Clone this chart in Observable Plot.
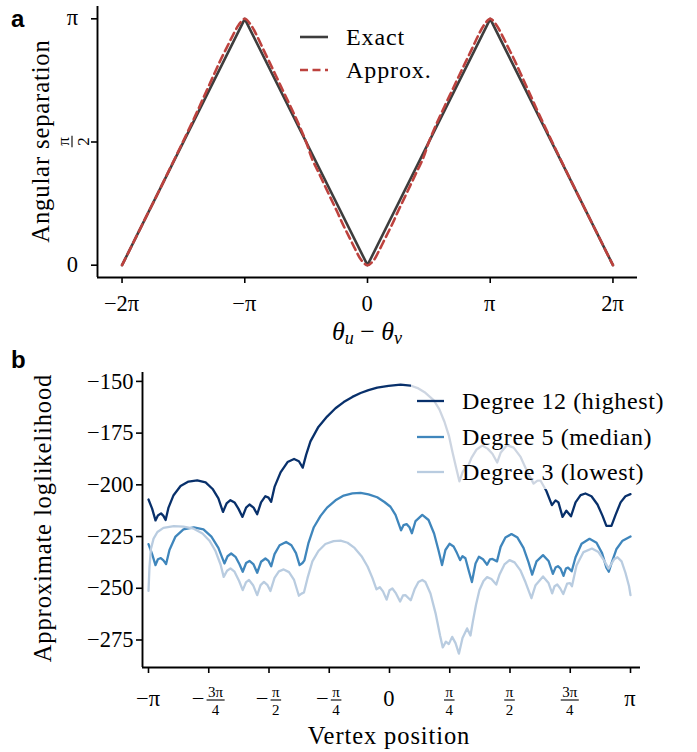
<!DOCTYPE html>
<html><head><meta charset="utf-8">
<script src="https://cdn.jsdelivr.net/npm/d3@7"></script>
<script src="https://cdn.jsdelivr.net/npm/@observablehq/plot@0.6"></script>
<style>
body{margin:0;background:#fff;}
#root{position:relative;width:697px;height:752px;}
#root > svg{display:block;}
#overlay{position:absolute;left:0;top:0;}
</style>
</head><body><div id="root"></div>
<script>
const PI = Math.PI;

// ---------- Panel a data (x and y in units of π) ----------
const diffExact = [-2, -1, 0, 1, 2];
const sepExact = [0, 1, 0, 1, 0];
const diffApprox = [-2,-1.9,-1.8,-1.7,-1.6,-1.5,-1.4,-1.35,-1.3,-1.25,-1.2,-1.15,-1.1,-1.05,-1,
  -0.95,-0.9,-0.85,-0.8,-0.75,-0.7,-0.65,-0.6,-0.55,-0.5,-0.45,-0.4,-0.35,-0.3,-0.25,-0.2,-0.15,-0.1,-0.05,0,
  0.05,0.1,0.15,0.2,0.25,0.3,0.35,0.4,0.45,0.5,0.55,0.6,0.65,0.7,0.75,0.8,0.85,0.9,0.95,1,
  1.05,1.1,1.15,1.2,1.25,1.3,1.35,1.4,1.5,1.6,1.7,1.8,1.9,2];
const sepApprox = [0,0.1,0.2,0.3,0.402,0.505,0.61,0.665,0.72,0.775,0.83,0.88,0.93,0.975,1,
  0.975,0.93,0.877,0.825,0.773,0.72,0.668,0.615,0.56,0.5,0.43,0.378,0.325,0.272,0.22,0.165,0.115,0.065,0.02,0,
  0.02,0.065,0.115,0.165,0.22,0.272,0.325,0.378,0.43,0.5,0.56,0.615,0.668,0.72,0.773,0.825,0.877,0.93,0.975,1,
  0.975,0.93,0.88,0.83,0.775,0.72,0.665,0.61,0.505,0.402,0.3,0.2,0.1,0];
const seriesA = ["Exact", "Approx."];
const xTicksA = [-2, -1, 0, 1, 2];
const xTickLabelsA = ["−2π", "−π", "0", "π", "2π"];
const yTicksA = [0, 0.5, 1];
const yTickLabelsA = ["0", "π/2", "π"];

// ---------- Panel b data (vertex position in units of π) ----------
const seriesB = ["Degree 12 (highest)", "Degree 5 (median)", "Degree 3 (lowest)"];
const posDeg12 = [-1,-0.985,-0.971,-0.961,-0.948,-0.938,-0.929,-0.917,-0.896,-0.867,-0.834,-0.798,-0.763,-0.734,-0.71,
  -0.691,-0.676,-0.66,-0.643,-0.627,-0.61,-0.595,-0.581,-0.564,-0.549,-0.533,-0.515,-0.502,-0.491,-0.477,-0.452,
  -0.423,-0.396,-0.376,-0.36,-0.346,-0.328,-0.295,-0.259,-0.224,-0.19,-0.154,-0.12,-0.087,-0.051,-0.004,0.046,
  0.087,0.12,0.149,0.183,0.207,0.228,0.247,0.261,0.276,0.29,0.303,0.317,0.328,0.34,0.361,0.385,0.407,0.427,0.447,
  0.461,0.488,0.515,0.544,0.571,0.598,0.614,0.627,0.651,0.674,0.689,0.701,0.718,0.734,0.753,0.772,0.793,0.813,
  0.838,0.863,0.884,0.9,0.921,0.938,0.959,0.979,1];
const llDeg12 = [-207.1,-211.5,-217.2,-214.8,-213.8,-215,-217,-211,-205,-200.6,-198.4,-197.8,-198.8,-202,-206.5,
  -213.1,-209,-207.4,-208.5,-211.5,-215.5,-211,-209.5,-211,-214.2,-208.5,-205.5,-206.2,-208.2,-201,-194,
  -189,-187.5,-188.6,-191.7,-185.5,-179,-172,-167,-163,-160,-157.5,-155.6,-154.2,-153,-152.2,-151.6,
  -152,-153.4,-155.5,-159,-163.5,-169.5,-176.5,-184,-191.5,-198.3,-194,-191.2,-190.5,-187,-183,-181,-182.5,-185,-189.2,
  -184.5,-180.8,-182,-186.5,-193.5,-199.4,-198,-198,-203,-209.8,-207.5,-208.5,-215.5,-212.5,-215.2,-208.5,-205,-204.2,
  -205.5,-209.5,-215,-219.8,-219.8,-214.5,-208.5,-205.5,-204.5];
const posDeg5 = [-1,-0.985,-0.971,-0.961,-0.949,-0.938,-0.927,-0.913,-0.888,-0.855,-0.812,-0.772,-0.739,-0.71,-0.685,
  -0.672,-0.657,-0.639,-0.622,-0.609,-0.595,-0.581,-0.564,-0.549,-0.533,-0.515,-0.502,-0.491,-0.477,-0.456,-0.429,
  -0.407,-0.388,-0.373,-0.361,-0.353,-0.336,-0.314,-0.286,-0.259,-0.224,-0.19,-0.154,-0.12,-0.087,-0.051,-0.021,
  0.004,0.025,0.048,0.058,0.071,0.083,0.093,0.108,0.136,0.162,0.185,0.203,0.218,0.232,0.249,0.266,0.28,0.293,0.303,
  0.315,0.33,0.342,0.357,0.371,0.388,0.405,0.417,0.427,0.446,0.461,0.481,0.506,0.531,0.556,0.577,0.592,0.61,0.637,
  0.66,0.678,0.689,0.699,0.71,0.722,0.732,0.741,0.756,0.772,0.797,0.83,0.859,0.882,0.9,0.91,0.921,0.942,0.967,1];
const llDeg5 = [-228.7,-233.5,-238.8,-236,-235.4,-236.5,-238.3,-231.5,-225,-221.5,-220.6,-221.5,-225,-230.5,-238,
  -234.5,-233.2,-234.8,-238.5,-242,-237.8,-236.8,-238.5,-242.5,-237.2,-235.6,-236.8,-239.4,-233.5,-229.2,-227.6,
  -229.2,-233,-238.8,-237.8,-236.5,-228,-220.5,-215,-211,-207.5,-205.2,-204.1,-203.9,-204.6,-206,-208.3,
  -210.6,-214.5,-222,-219.5,-219,-220.5,-223.4,-217.5,-214.5,-217,-223.5,-231.5,-238.8,-231.5,-228.5,-229.8,-233,-236.4,-234.5,
  -235.5,-242,-247,-238,-234.8,-236,-238.6,-236,-235.8,-237,-230,-225.5,-223.8,-225.5,-230.5,-237.5,-243.4,-237,-234,
  -236.8,-243,-240,-239.3,-240.5,-244,-240.5,-240,-241.8,-235,-228.5,-226.1,-228,-233,-240,-242,-238,-231,-227,-225];
const posDeg3 = [-1,-0.996,-0.99,-0.979,-0.963,-0.938,-0.895,-0.855,-0.812,-0.776,-0.747,-0.722,-0.701,-0.688,-0.674,
  -0.66,-0.643,-0.624,-0.609,-0.595,-0.583,-0.566,-0.549,-0.535,-0.521,-0.506,-0.494,-0.477,-0.459,-0.439,-0.417,
  -0.396,-0.376,-0.365,-0.355,-0.34,-0.32,-0.295,-0.266,-0.232,-0.203,-0.174,-0.145,-0.116,-0.091,-0.071,-0.054,
  -0.04,-0.027,-0.012,0,0.012,0.027,0.044,0.056,0.066,0.088,0.104,0.12,0.136,0.149,0.17,0.191,0.21,0.221,0.234,
  0.246,0.26,0.274,0.288,0.303,0.322,0.336,0.346,0.359,0.373,0.39,0.405,0.423,0.443,0.456,0.477,0.498,0.519,0.544,
  0.564,0.589,0.606,0.637,0.66,0.675,0.685,0.696,0.708,0.721,0.737,0.749,0.757,0.776,0.805,0.84,0.867,0.89,0.909,
  0.919,0.932,0.946,0.963,0.979,0.994,1];
const llDeg3 = [-251.3,-240,-231,-226,-222.8,-220.8,-220,-220.2,-221.2,-223.5,-227,-232,-238.5,-244.5,-241.5,
  -240.4,-242,-246.5,-250.9,-247,-246,-248.5,-253.3,-248.5,-246.9,-248.5,-251.3,-245,-241.8,-240.9,-242.2,
  -246,-253.6,-252.6,-252,-245,-237,-232,-228.6,-227.2,-227,-228,-230.5,-234.5,-239.5,-245,-250.5,
  -249.5,-251.5,-255.5,-251,-250.1,-252.5,-256.4,-253.5,-253.3,-255.8,-250.5,-247,-246,-247,-252.5,-262,-273,-278.6,-275.8,
  -277,-273.5,-276.5,-281.6,-274,-269.4,-272.8,-266,-258,-251,-246.5,-244.6,-245.5,-248.2,-243.5,-238.5,-236.4,-237.5,-241.5,
  -247,-254.8,-248.5,-244.3,-247.5,-252.5,-249,-248.2,-250,-252.8,-247.8,-247.5,-249,-239,-232.5,-230.8,-232.5,-236.5,-240.5,
  -238.5,-236,-235,-237,-242.5,-249,-253.3];
const xTicksB = [-1, -0.75, -0.5, -0.25, 0, 0.25, 0.5, 0.75, 1];
const xTickLabelsB = ["−π", "−3π/4", "−π/2", "−π/4", "0", "π/4", "π/2", "3π/4", "π"];
const yTicksB = [-275, -250, -225, -200, -175, -150];

const colorsA = ["#3d3d3d", "#bd423e"];
const colorsB = ["#08306b", "#3f86bc", "#b9cce0"];
const FONT = "Liberation Serif";
const TICK = 22.5, TITLE = 24.5, LEG = 24, LS = "0.9px";

// ---------- build rows ----------
const rowsExact = diffExact.map((d, i) => ({x: d * PI, y: sepExact[i] * PI}));
const rowsApprox = diffApprox.map((d, i) => ({x: d * PI, y: sepApprox[i] * PI}));
const rowsB = [
  posDeg12.map((p, i) => ({x: p * PI, y: llDeg12[i]})),
  posDeg5.map((p, i) => ({x: p * PI, y: llDeg5[i]})),
  posDeg3.map((p, i) => ({x: p * PI, y: llDeg3[i]}))
];

const root = document.getElementById("root");
const HA = 350; // height of panel a

// ---------- Panel a ----------
const xDomA = [-2.2 * PI, 2.2 * PI];
const yDomA = [-0.05 * PI, 1.05 * PI];
const chartA = Plot.plot({
  width: 697, height: HA,
  marginTop: 6, marginBottom: HA - 277, marginLeft: 97, marginRight: 60,
  x: {domain: xDomA}, y: {domain: yDomA},
  style: {fontFamily: FONT, fontSize: "21px", background: "white", color: "black"},
  marks: [
    Plot.line(rowsExact, {x: "x", y: "y", stroke: colorsA[0], strokeWidth: 2.6}),
    Plot.line(rowsApprox, {x: "x", y: "y", stroke: colorsA[1], strokeWidth: 2.6, strokeDasharray: "8,4.5", curve: "catmull-rom"}),
    Plot.axisX({ticks: xTicksA.map(t => t * PI), tickSize: 6, tickFormat: () => "", label: null, strokeWidth: 1.6}),
    Plot.axisY({ticks: yTicksA.map(t => t * PI), tickSize: 6, tickFormat: () => "", label: null, strokeWidth: 1.6}),
    Plot.ruleX([xDomA[0]], {strokeWidth: 1.9}),
    Plot.ruleY([yDomA[0]], {strokeWidth: 1.9})
  ]
});
root.appendChild(chartA);

// ---------- Panel b ----------
const xDomB = [-1.0249 * PI, 1.0415 * PI];
const yDomB = [-288.3, -145.7];
const chartB = Plot.plot({
  width: 697, height: 752 - HA,
  marginTop: 372 - HA, marginBottom: 85, marginLeft: 142, marginRight: 57,
  x: {domain: xDomB}, y: {domain: yDomB},
  style: {fontFamily: FONT, fontSize: "22px", background: "white", color: "black"},
  marks: [
    Plot.line(rowsB[0], {x: "x", y: "y", stroke: colorsB[0], strokeWidth: 2.3}),
    Plot.line(rowsB[1], {x: "x", y: "y", stroke: colorsB[1], strokeWidth: 2.3}),
    Plot.line(rowsB[2], {x: "x", y: "y", stroke: colorsB[2], strokeWidth: 2.3}),
    Plot.axisX({ticks: xTicksB.map(t => t * PI), tickSize: 6, tickFormat: () => "", label: null, strokeWidth: 1.6}),
    Plot.axisY({ticks: yTicksB, tickSize: 6, tickPadding: 3, label: null, strokeWidth: 1.6,
      tickFormat: d => "−" + Math.abs(d), fontSize: TICK}),
    Plot.ruleX([xDomB[0]], {strokeWidth: 1.9}),
    Plot.ruleY([yDomB[0]], {strokeWidth: 1.9})
  ]
});
root.appendChild(chartB);

// overlay svg for titles, fractions, legends and panel letters (page coordinates)
const outer = d3.select(root).append("svg").attr("id", "overlay")
  .attr("width", 697).attr("height", 752).attr("font-family", FONT).style("pointer-events", "none");

// ---------- text helpers ----------
function txt(g, x, y, s, size, anchor, extra) {
  const t = g.append("text").attr("x", x).attr("y", y).attr("font-size", size)
    .attr("text-anchor", anchor || "middle").attr("fill", "black").text(s);
  if (extra) extra(t);
  return t;
}
function frac(g, cx, barY, label, fs, signSize) {
  let sign = "";
  let body = label;
  if (body.startsWith("−")) { sign = "−"; body = body.slice(1); }
  const [num, den] = body.split("/");
  const grp = g.append("g");
  const n = txt(grp, 0, barY - 3, num, fs);
  const d = txt(grp, 0, barY + fs * 0.98, den, fs);
  const w = Math.max(n.node().getComputedTextLength(), d.node().getComputedTextLength()) + 3;
  let sw = 0, gap = 0, s = null;
  if (sign) {
    s = txt(grp, 0, barY + 6, sign, signSize, "start");
    sw = s.node().getComputedTextLength(); gap = 2;
  }
  const total = sw + gap + w;
  const left = cx - total / 2;
  if (s) s.attr("x", left);
  const fc = left + sw + gap + w / 2;
  n.attr("x", fc); d.attr("x", fc);
  grp.append("line").attr("x1", fc - w / 2).attr("x2", fc + w / 2).attr("y1", barY).attr("y2", barY)
    .attr("stroke", "black").attr("stroke-width", 1.1);
  return grp;
}

// ---------- Panel a decorations ----------
{
  const sx = chartA.scale("x"), sy = chartA.scale("y");
  const g = outer.append("g");
  xTicksA.forEach((t, i) => txt(g, sx.apply(t * PI), 311, xTickLabelsA[i], TICK));
  yTicksA.forEach((t, i) => {
    const lab = yTickLabelsA[i];
    const y = sy.apply(t * PI);
    if (lab.includes("/")) {
      const fg = g.append("g").attr("transform", `translate(72,${y}) rotate(-90)`);
      frac(fg, 0, 0, lab, 17, 21);
    } else {
      txt(g, 78, y + 7, lab, TICK, "end");
    }
  });
  txt(g, 0, 0, "Angular separation", TITLE, "middle", t => t.attr("transform", "translate(49,141) rotate(-90)").attr("letter-spacing", LS));
  const th = g.append("text").attr("x", 367).attr("y", 340).attr("text-anchor", "middle").attr("font-size", 26);
  th.append("tspan").attr("font-style", "italic").text("θ");
  th.append("tspan").attr("font-style", "italic").attr("font-size", 18).attr("dy", 4).text("u");
  th.append("tspan").attr("dy", -4).text(" − ");
  th.append("tspan").attr("font-style", "italic").text("θ");
  th.append("tspan").attr("font-style", "italic").attr("font-size", 18).attr("dy", 4).text("v");
  const ly = [37, 70];
  seriesA.forEach((name, i) => {
    const l = g.append("line").attr("x1", 300).attr("x2", 328).attr("y1", ly[i]).attr("y2", ly[i])
      .attr("stroke", colorsA[i]).attr("stroke-width", 2.6);
    if (i === 1) l.attr("stroke-dasharray", "8,4.5");
    txt(g, 346, ly[i] + 8, name, LEG, "start", t => t.attr("letter-spacing", LS));
  });
  g.append("text").attr("x", 11).attr("y", 27).attr("font-family", "Liberation Sans").attr("font-weight", "bold")
    .attr("font-size", 24).text("a");
}

// ---------- Panel b decorations ----------
{
  const sx = chartB.scale("x");
  const g = outer.append("g");
  xTicksB.forEach((t, i) => {
    const lab = xTickLabelsB[i];
    const cx = sx.apply(t * PI);
    if (lab.includes("/")) frac(g, cx, 700, lab, 15, TICK);
    else txt(g, cx, 706, lab, TICK);
  });
  txt(g, 0, 0, "Approximate loglikelihood", TITLE, "middle",
    t => t.attr("transform", "translate(51,518) rotate(-90)").attr("letter-spacing", LS));
  txt(g, 389, 744, "Vertex position", TITLE, "middle", t => t.attr("letter-spacing", LS));
  g.append("rect").attr("x", 411).attr("y", 382).attr("width", 263).attr("height", 107)
    .attr("fill", "white").attr("fill-opacity", 0.8);
  const ly = [401, 437, 472];
  seriesB.forEach((name, i) => {
    g.append("line").attr("x1", 417).attr("x2", 444).attr("y1", ly[i]).attr("y2", ly[i])
      .attr("stroke", colorsB[i]).attr("stroke-width", 2.3);
    txt(g, 462, ly[i] + 8, name, LEG, "start", t => t.attr("letter-spacing", "0.6px"));
  });
  g.append("text").attr("x", 11).attr("y", 368).attr("font-family", "Liberation Sans").attr("font-weight", "bold")
    .attr("font-size", 24).text("b");
}
</script>
</body></html>
